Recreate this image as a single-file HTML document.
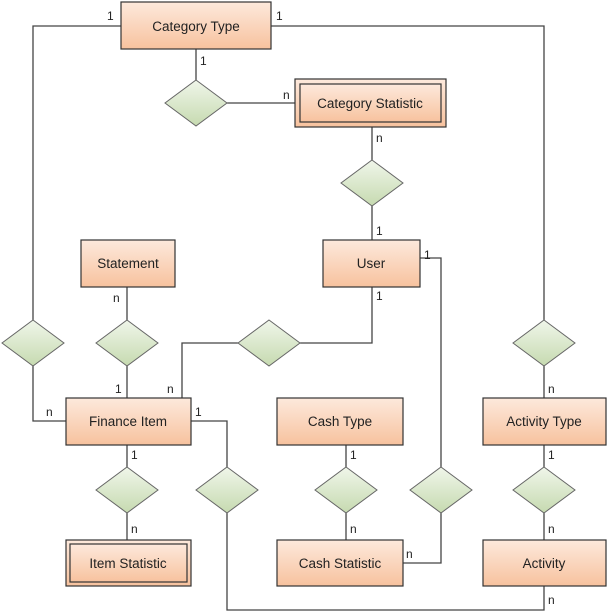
<!DOCTYPE html>
<html><head><meta charset="utf-8"><style>body{margin:0;background:#fff}svg{display:block}text{font-family:"Liberation Sans",sans-serif}</style></head><body>
<svg width="607" height="616" xmlns="http://www.w3.org/2000/svg">
<defs>
<linearGradient id="o" x1="0" y1="0" x2="0" y2="1"><stop offset="0" stop-color="#fde9dc"/><stop offset="1" stop-color="#f7c29e"/></linearGradient>
<linearGradient id="g" x1="0" y1="0" x2="0" y2="1"><stop offset="0" stop-color="#f0f6ea"/><stop offset="1" stop-color="#c6dab0"/></linearGradient>
</defs>
<g fill="none" stroke="#444" stroke-width="1.3">
<polyline points="121,26 33,26 33,320"/><polyline points="33,366 33,421 66,421"/>
<polyline points="271,26 544,26 544,320"/><line x1="544" y1="366" x2="544" y2="398"/>
<line x1="196" y1="49" x2="196" y2="80"/><line x1="227" y1="103" x2="295" y2="103"/>
<line x1="372" y1="127" x2="372" y2="160"/><line x1="372" y1="206" x2="372" y2="240"/>
<line x1="127" y1="287" x2="127" y2="320"/><line x1="127" y1="366" x2="127" y2="398"/>
<polyline points="372,287 372,343 300,343"/><polyline points="238,343 182,343 182,398"/>
<polyline points="420,258 441,258 441,467"/><polyline points="441,513 441,563 403,563"/>
<polyline points="191,421 227,421 227,467"/><polyline points="227,513 227,610 544,610 544,586"/>
<line x1="127" y1="445" x2="127" y2="467"/><line x1="127" y1="513" x2="127" y2="540"/>
<line x1="346" y1="445" x2="346" y2="467"/><line x1="346" y1="513" x2="346" y2="540"/>
<line x1="544" y1="445" x2="544" y2="467"/><line x1="544" y1="513" x2="544" y2="540"/>
</g>
<g fill="url(#g)" stroke="#666" stroke-width="1">
<polygon points="196,80 227,103 196,126 165,103"/>
<polygon points="372,160 403,183 372,206 341,183"/>
<polygon points="33,320 64,343 33,366 2,343"/>
<polygon points="127,320 158,343 127,366 96,343"/>
<polygon points="269,320 300,343 269,366 238,343"/>
<polygon points="544,320 575,343 544,366 513,343"/>
<polygon points="127,467 158,490 127,513 96,490"/>
<polygon points="227,467 258,490 227,513 196,490"/>
<polygon points="346,467 377,490 346,513 315,490"/>
<polygon points="441,467 472,490 441,513 410,490"/>
<polygon points="544,467 575,490 544,513 513,490"/>
</g>
<g fill="url(#o)" stroke="#333" stroke-width="1.2">
<rect x="121" y="2" width="150" height="47"/>
<rect x="295" y="79" width="151" height="48"/><rect x="300" y="84" width="141" height="38"/>
<rect x="81" y="240" width="94" height="47"/>
<rect x="323" y="240" width="97" height="47"/>
<rect x="66" y="398" width="125" height="47"/>
<rect x="277" y="398" width="126" height="47"/>
<rect x="483" y="398" width="123" height="47"/>
<rect x="66" y="540" width="125" height="46"/><rect x="70" y="544" width="117" height="38"/>
<rect x="277" y="540" width="126" height="46"/>
<rect x="483" y="540" width="123" height="46"/>
</g>
<g font-size="13.5" fill="#222" text-anchor="middle">
<text x="196" y="31">Category Type</text>
<text x="370" y="108">Category Statistic</text>
<text x="128" y="268">Statement</text>
<text x="371" y="268">User</text>
<text x="128" y="426">Finance Item</text>
<text x="340" y="426">Cash Type</text>
<text x="544" y="426">Activity Type</text>
<text x="128" y="568">Item Statistic</text>
<text x="340" y="568">Cash Statistic</text>
<text x="544" y="568">Activity</text>
</g>
<g font-size="12" fill="#222">
<text x="107" y="20">1</text><text x="276" y="20">1</text><text x="200" y="65">1</text>
<text x="283" y="99">n</text><text x="376" y="142">n</text><text x="376" y="235">1</text>
<text x="424" y="259">1</text><text x="376" y="300">1</text><text x="113" y="302">n</text>
<text x="115" y="393">1</text><text x="167" y="393">n</text><text x="46" y="416">n</text>
<text x="195" y="416">1</text><text x="548" y="393">n</text>
<text x="131" y="459">1</text><text x="131" y="533">n</text>
<text x="350" y="459">1</text><text x="350" y="533">n</text>
<text x="548" y="459">1</text><text x="548" y="533">n</text>
<text x="406" y="558">n</text><text x="548" y="604">n</text>
</g>
</svg>
</body></html>
